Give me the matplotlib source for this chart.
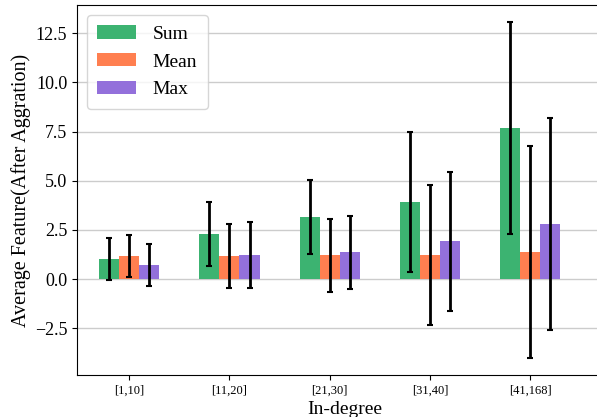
import matplotlib
matplotlib.use("Agg")
import matplotlib.pyplot as plt
import numpy as np

plt.rcParams['font.family'] = ['Liberation Serif', 'DejaVu Serif']
plt.rcParams['mathtext.fontset'] = 'stix'

categories = ['[1,10]', '[11,20]', '[21,30]', '[31,40]', '[41,168]']
sum_vals = [1.02, 2.28, 3.15, 3.91, 7.68]
sum_err = [1.07, 1.63, 1.87, 3.55, 5.38]
mean_vals = [1.17, 1.17, 1.22, 1.22, 1.37]
mean_err = [1.08, 1.64, 1.86, 3.54, 5.39]
max_vals = [0.72, 1.22, 1.37, 1.93, 2.80]
max_err = [1.08, 1.66, 1.86, 3.53, 5.40]

series = [('Sum', sum_vals, sum_err, '#3CB371'),
          ('Mean', mean_vals, mean_err, '#FF7F50'),
          ('Max', max_vals, max_err, '#9370DB')]

fig = plt.figure(figsize=(5.97, 4.17), dpi=100)
ax = fig.add_axes([77/597, 42/417, (612-77)/597, 370/417])

x = np.arange(len(categories))
w = 0.2
for i, (name, vals, err, col) in enumerate(series):
    ax.bar(x + (i - 1) * w, vals, w, color=col, label=name, zorder=2,
           yerr=err, error_kw=dict(ecolor='black', elinewidth=2, capsize=2.5, capthick=1.5, zorder=3))

ax.set_xlim(-0.52, -0.52 + (612-77)/100.3)
ax.set_ylim(-4.87, 13.93)
ax.set_yticks([-2.5, 0, 2.5, 5.0, 7.5, 10.0, 12.5])
ax.set_xticks(x)
ax.set_xticklabels(categories, fontsize=9)
ax.tick_params(axis='y', labelsize=13)
ax.yaxis.grid(True, color='#cccccc', linewidth=1, zorder=0)
ax.set_axisbelow(True)
ax.spines['right'].set_visible(False)
ax.set_xlabel('In-degree', fontsize=14, labelpad=3)
ax.set_ylabel('Average Feature(After Aggration)', fontsize=14.5, labelpad=3)
ax.legend(loc='upper left', fontsize=14, handlelength=2.0, handleheight=0.67,
          labelspacing=0.53, borderpad=0.55, handletextpad=0.85)

fig.savefig('out.png', dpi=100)
